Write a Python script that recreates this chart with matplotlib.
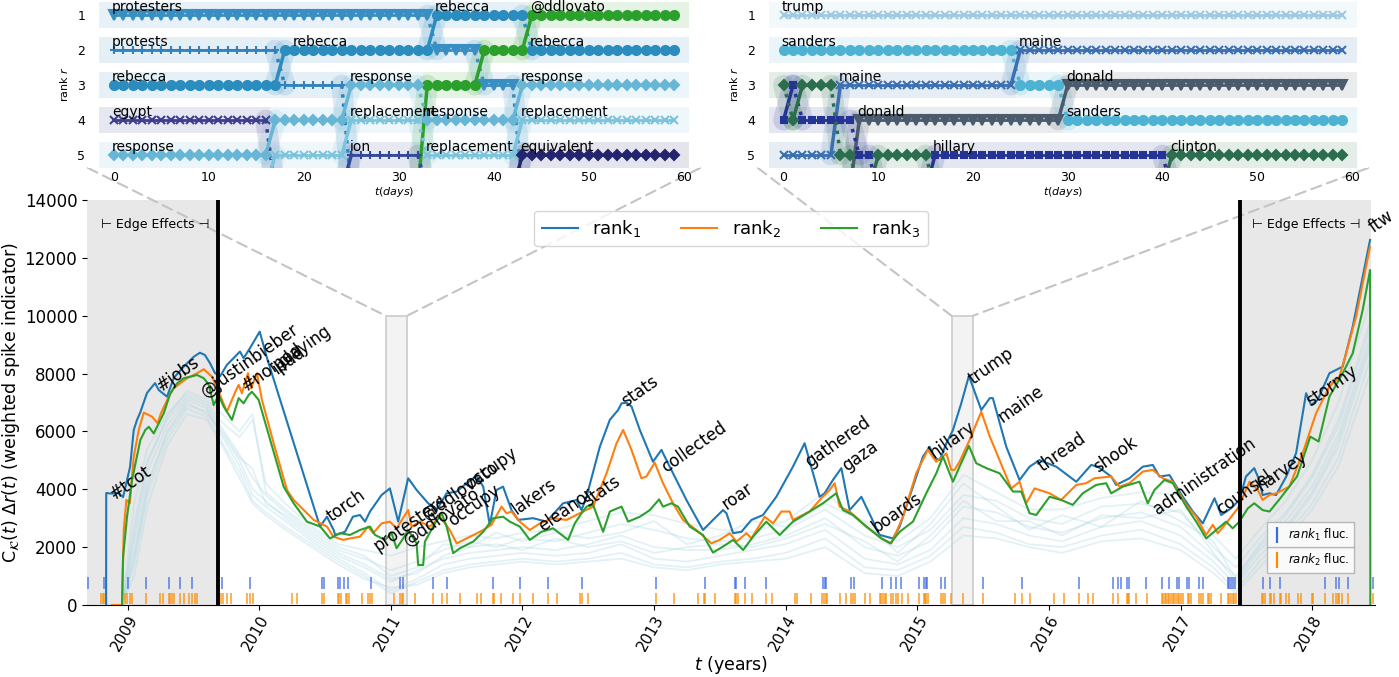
import matplotlib
matplotlib.use('Agg')
import matplotlib.pyplot as plt
from matplotlib.lines import Line2D
from matplotlib.patches import Rectangle, ConnectionPatch

# ---------------- main panel data (t in years) ----------------
r1_t = [2008.837, 2008.838, 2008.882, 2008.928, 2008.966, 2009.019, 2009.047, 2009.072, 2009.095, 2009.148,
        2009.209, 2009.237, 2009.300, 2009.351, 2009.427, 2009.503, 2009.550, 2009.588, 2009.626, 2009.664,
        2009.702, 2009.755, 2009.854, 2009.882, 2009.930, 2010.004, 2010.059, 2010.462, 2010.515, 2010.566,
        2010.577, 2010.652, 2010.712, 2010.766, 2010.804, 2010.842, 2010.930, 2010.993, 2011.056, 2011.132,
        2011.196, 2011.284, 2011.348, 2011.424, 2011.500, 2011.576, 2011.652, 2011.702, 2011.752, 2011.803,
        2011.853, 2011.917, 2011.967, 2012.081, 2012.183, 2012.309, 2012.360, 2012.411, 2012.449, 2012.487,
        2012.588, 2012.664, 2012.727, 2012.753, 2012.791, 2012.829, 2012.892, 2012.992, 2013.056, 2013.119,
        2013.246, 2013.372, 2013.448, 2013.524, 2013.550, 2013.601, 2013.664, 2013.740, 2013.828, 2013.929,
        2014.055, 2014.144, 2014.258, 2014.296, 2014.359, 2014.423, 2014.486, 2014.575, 2014.714, 2014.765,
        2014.815, 2014.866, 2014.967, 2015.043, 2015.094, 2015.132, 2015.170, 2015.221, 2015.271, 2015.334,
        2015.392, 2015.486, 2015.551, 2015.574, 2015.676, 2015.777, 2015.853, 2015.929, 2016.056, 2016.208,
        2016.321, 2016.372, 2016.473, 2016.511, 2016.612, 2016.713, 2016.789, 2016.840, 2016.916, 2017.017,
        2017.093, 2017.169, 2017.258, 2017.309, 2017.384, 2017.447, 2017.497, 2017.560, 2017.598, 2017.624,
        2017.676, 2017.726, 2017.803, 2017.878, 2017.954, 2017.992, 2018.042, 2018.131, 2018.232, 2018.308,
        2018.384, 2018.440]
r1_v = [0, 3870, 3850, 3880, 3730, 4770, 6050, 6400, 6640, 7330,
        7670, 7430, 7200, 7850, 8240, 8580, 8720, 8640, 8360, 8020,
        7900, 8300, 8760, 8530, 8880, 9450, 8540, 2710, 3050, 2590,
        2420, 2530, 3050, 3110, 2880, 3230, 3800, 4030, 2880, 4380,
        3975, 3515, 3280, 3860, 3920, 4210, 4460, 4090, 2770, 3975,
        4090, 3280, 2940, 3000, 2880, 3515, 3570, 3630, 3280, 3740,
        5470, 6400, 6740, 6970, 6990, 6860, 6050, 4950, 5360, 4780,
        3630, 2590, 2940, 3280, 3170, 2480, 2530, 2940, 3110, 3740,
        4780, 5590, 3740, 3860, 4320, 4730, 3280, 3740, 2420, 2360,
        2300, 2710, 4090, 5130, 5470, 5070, 5010, 5590, 6050, 6970,
        7920, 6740, 7150, 7150, 5470, 4320, 4780, 5010, 4780, 4260,
        4840, 4780, 4440, 4150, 4380, 4780, 4840, 4440, 4490, 3740,
        3230, 2820, 3690, 3110, 3340, 3630, 4440, 4730, 4320, 3800,
        3860, 3800, 4440, 5250, 7320, 6910, 7090, 8010, 8240, 9620,
        11350, 12620]

r2_t = [2008.882, 2008.958, 2008.971, 2008.991, 2009.017, 2009.047, 2009.085, 2009.123, 2009.186, 2009.229,
        2009.254, 2009.313, 2009.351, 2009.452, 2009.528, 2009.579, 2009.642, 2009.692, 2009.755, 2009.819,
        2009.844, 2009.869, 2009.915, 2009.938, 2009.983, 2010.021, 2010.110, 2010.211, 2010.262, 2010.414,
        2010.515, 2010.563, 2010.639, 2010.689, 2010.765, 2010.828, 2010.866, 2010.930, 2010.993, 2011.044,
        2011.132, 2011.158, 2011.221, 2011.297, 2011.373, 2011.449, 2011.500, 2011.576, 2011.702, 2011.765,
        2011.841, 2011.879, 2011.917, 2011.980, 2012.056, 2012.132, 2012.233, 2012.335, 2012.461, 2012.537,
        2012.639, 2012.715, 2012.765, 2012.829, 2012.904, 2012.942, 2013.005, 2013.068, 2013.144, 2013.220,
        2013.322, 2013.436, 2013.499, 2013.575, 2013.626, 2013.702, 2013.740, 2013.841, 2013.904, 2013.967,
        2014.030, 2014.055, 2014.182, 2014.271, 2014.334, 2014.372, 2014.410, 2014.486, 2014.613, 2014.727,
        2014.803, 2014.891, 2014.992, 2015.080, 2015.144, 2015.221, 2015.258, 2015.283, 2015.321, 2015.397,
        2015.486, 2015.551, 2015.714, 2015.777, 2015.828, 2015.891, 2016.005, 2016.093, 2016.208, 2016.283,
        2016.346, 2016.473, 2016.536, 2016.612, 2016.713, 2016.789, 2016.865, 2016.941, 2017.043, 2017.119,
        2017.195, 2017.245, 2017.283, 2017.346, 2017.435, 2017.524, 2017.587, 2017.624, 2017.676, 2017.726,
        2017.827, 2017.928, 2018.030, 2018.131, 2018.207, 2018.258, 2018.334, 2018.440]
r2_v = [0, 0, 2590, 3630, 3515, 5130, 6050, 6650, 6510, 6280,
        6630, 7200, 7490, 7840, 8010, 8150, 7890, 7370, 6680, 7370,
        7610, 7320, 8010, 7490, 8010, 7090, 5590, 3975, 3630, 2940,
        2710, 2360, 2250, 2300, 2360, 2710, 2480, 2820, 2880, 2650,
        3280, 2710, 2880, 2710, 3050, 2590, 2130, 2300, 2590, 2770,
        3400, 3170, 3230, 2880, 2590, 2820, 3000, 2940, 3230, 3400,
        4550, 5590, 6050, 5360, 4380, 4440, 4920, 4210, 3515, 2940,
        2590, 2130, 2250, 2480, 2190, 2480, 2300, 3050, 2820, 3230,
        3230, 2940, 3230, 3690, 3975, 4210, 3400, 3230, 2710, 2300,
        2130, 3050, 4550, 5360, 4950, 5240, 4670, 4670, 4950, 5700,
        6680, 5820, 4030, 4260, 3515, 4030, 3860, 3630, 4150, 4210,
        4380, 4440, 4090, 4210, 4610, 4670, 4380, 4260, 3460, 3050,
        2420, 2770, 2480, 2820, 3340, 4260, 3975, 3630, 3800, 3860,
        4090, 5250, 6630, 7550, 7890, 8700, 9970, 12390]

r3_t = [2008.958, 2008.966, 2008.996, 2009.034, 2009.097, 2009.135, 2009.161, 2009.199, 2009.237, 2009.275,
        2009.325, 2009.376, 2009.427, 2009.477, 2009.528, 2009.579, 2009.617, 2009.655, 2009.692, 2009.730,
        2009.793, 2009.844, 2009.882, 2009.920, 2009.945, 2009.996, 2010.084, 2010.186, 2010.262, 2010.363,
        2010.464, 2010.538, 2010.614, 2010.689, 2010.765, 2010.842, 2010.880, 2010.956, 2011.006, 2011.044,
        2011.094, 2011.132, 2011.196, 2011.208, 2011.246, 2011.259, 2011.335, 2011.386, 2011.424, 2011.474,
        2011.525, 2011.626, 2011.702, 2011.778, 2011.853, 2011.904, 2011.980, 2012.056, 2012.145, 2012.233,
        2012.347, 2012.398, 2012.449, 2012.487, 2012.537, 2012.613, 2012.664, 2012.753, 2012.803, 2012.892,
        2012.968, 2013.038, 2013.068, 2013.132, 2013.182, 2013.271, 2013.372, 2013.448, 2013.524, 2013.601,
        2013.677, 2013.752, 2013.853, 2013.954, 2014.055, 2014.182, 2014.283, 2014.384, 2014.435, 2014.511,
        2014.613, 2014.727, 2014.795, 2014.866, 2014.967, 2015.068, 2015.144, 2015.195, 2015.271, 2015.321,
        2015.392, 2015.448, 2015.524, 2015.626, 2015.727, 2015.790, 2015.853, 2015.904, 2016.005, 2016.093,
        2016.181, 2016.257, 2016.359, 2016.435, 2016.473, 2016.561, 2016.688, 2016.751, 2016.802, 2016.878,
        2016.941, 2017.043, 2017.119, 2017.195, 2017.271, 2017.346, 2017.396, 2017.447, 2017.511, 2017.560,
        2017.624, 2017.676, 2017.758, 2017.885, 2017.986, 2018.049, 2018.131, 2018.232, 2018.308, 2018.384,
        2018.440, 2018.442]
r3_v = [0, 1670, 3050, 4320, 5700, 6050, 6160, 5930, 6280, 6630,
        7320, 7660, 7840, 7890, 7950, 7840, 7610, 6910, 7260, 6860,
        6400, 7150, 6970, 7260, 7370, 7090, 5700, 4090, 3515, 2880,
        2710, 2300, 2480, 2420, 2590, 2710, 2420, 2250, 2480, 1960,
        2300, 2590, 2130, 1380, 1380, 2190, 2820, 3170, 2710, 1790,
        1960, 2190, 2530, 3000, 3050, 2880, 2710, 2250, 2530, 2650,
        2250, 2820, 3170, 3400, 3460, 2530, 3230, 3400, 2880, 3050,
        3280, 3650, 3400, 3515, 3400, 2710, 2420, 1810, 2020, 2250,
        1900, 2360, 2880, 2420, 2880, 3230, 3515, 3860, 3280, 3110,
        2710, 2300, 2130, 2530, 2880, 3860, 4550, 5130, 4260, 4780,
        5500, 4900, 4730, 4550, 3920, 3920, 3170, 3110, 3740, 3630,
        3460, 3860, 4150, 4210, 3860, 4090, 4260, 3515, 3975, 4320,
        4210, 3400, 2880, 2300, 2590, 2880, 2650, 2880, 3340, 3515,
        3280, 3230, 3690, 4440, 5820, 5650, 7200, 8010, 8700, 10200,
        11580, 0]

# lower ranks (faint background curves)
bg_t = [2008.96, 2009.05, 2009.15, 2009.3, 2009.45, 2009.6, 2009.72, 2009.85, 2009.95, 2010.05,
        2010.2, 2010.4, 2010.6, 2010.8, 2011.0, 2011.2, 2011.4, 2011.6, 2011.8, 2012.0,
        2012.25, 2012.5, 2012.75, 2013.0, 2013.25, 2013.5, 2013.75, 2014.0, 2014.3, 2014.6,
        2014.85, 2015.1, 2015.35, 2015.6, 2015.85, 2016.1, 2016.4, 2016.7, 2017.0, 2017.25,
        2017.42, 2017.6, 2017.8, 2018.0, 2018.2, 2018.44]
bg1 = [0, 3500, 5400, 6600, 7300, 7000, 6300, 5800, 6400, 4200,
       3500, 2700, 2100, 1900, 1700, 2000, 2200, 2400, 2300, 2500,
       2600, 2900, 3200, 3100, 2800, 2600, 2500, 2900, 3900, 2700,
       2200, 3000, 4500, 3900, 3300, 3300, 3700, 3900, 3800, 2400,
       1600, 2600, 3600, 5000, 7000, 10500]
bg2 = [0, 2800, 5000, 6400, 7200, 6900, 6100, 5200, 4400, 3800,
       3200, 2500, 1900, 1600, 1200, 1500, 1900, 2200, 2000, 2300,
       2200, 2500, 2800, 2600, 2300, 2200, 2300, 2600, 3300, 2400,
       2000, 2600, 3800, 3600, 3000, 2800, 3400, 3500, 3200, 2000,
       1300, 2300, 3200, 4500, 6400, 9800]
bg3 = [0, 2200, 4600, 6200, 7100, 6800, 5900, 5000, 4000, 3600,
       3000, 2300, 1700, 1300, 800, 1200, 1600, 1800, 1900, 2000,
       1900, 2100, 2400, 2000, 1900, 1900, 2100, 2400, 3000, 2000,
       1700, 2200, 3400, 3200, 2700, 2500, 3000, 3200, 2700, 1700,
       1000, 2000, 2900, 4100, 5900, 9300]
bg4 = [0, 1800, 4200, 5900, 6900, 6700, 5800, 4800, 3800, 3400,
       2900, 2200, 1600, 1100, 500, 900, 1400, 1600, 1700, 1800,
       1700, 1800, 2100, 1600, 1500, 1700, 1900, 2100, 2600, 1600,
       1400, 1900, 3000, 2800, 2400, 2200, 2700, 2900, 2400, 1500,
       700, 1700, 2600, 3800, 5500, 8900]
bg5 = [0, 1400, 3800, 5700, 6800, 6500, 5600, 4600, 3600, 3200,
       2700, 2100, 1500, 1000, 400, 800, 1200, 1400, 1500, 1600,
       1500, 1600, 1800, 1400, 1300, 1500, 1600, 1800, 2300, 1300,
       1200, 1700, 2700, 2500, 2100, 2000, 2400, 2600, 2100, 1300,
       500, 1500, 2400, 3500, 5100, 8500]
bg6 = [0, 1000, 3400, 5500, 6600, 6400, 5500, 4400, 3500, 3100,
       2600, 2000, 1400, 900, 600, 700, 1100, 1300, 1400, 1500,
       1400, 1500, 1600, 1300, 1200, 1400, 1500, 1600, 2000, 1100,
       1000, 1500, 2400, 2300, 2000, 1800, 2200, 2300, 1900, 1100,
       400, 1300, 2200, 3300, 4800, 8000]
bg7 = [0, 2500, 4900, 6500, 7400, 7100, 6600, 6000, 6600, 3900,
       3300, 2600, 2000, 1700, 1000, 1300, 2100, 2000, 2500, 2200,
       2500, 2300, 2500, 2900, 2100, 2400, 2900, 2700, 3500, 2900,
       1800, 2800, 4200, 3400, 2600, 3100, 2700, 3600, 2900, 2200,
       900, 2100, 3100, 4400, 6200, 9600]
bg8 = [0, 1600, 4000, 6000, 7000, 6600, 6000, 5100, 4700, 3500,
       3100, 2400, 1800, 1400, 900, 1100, 1700, 2000, 2100, 1900,
       2300, 2000, 2200, 1800, 2000, 2100, 2000, 2300, 2800, 2200,
       1500, 2400, 3600, 2900, 2900, 2400, 3100, 3000, 3300, 1800,
       800, 1900, 2700, 3900, 5700, 9100]

# rank fluctuation events
fluc1 = [2008.700, 2008.819, 2009.004, 2009.138, 2009.313, 2009.396, 2009.490, 2009.718, 2009.932, 2010.477,
         2010.490, 2010.601, 2010.614, 2010.646, 2010.677, 2010.849, 2011.069, 2011.090, 2011.322, 2011.424,
         2011.773, 2011.980, 2012.195, 2012.449, 2013.018, 2013.385, 2013.613, 2013.626, 2013.689, 2013.853,
         2014.283, 2014.296, 2014.309, 2014.499, 2014.516, 2014.734, 2014.802, 2014.841, 2014.878, 2015.010,
         2015.048, 2015.063, 2015.076, 2015.182, 2015.213, 2015.503, 2015.797, 2016.227, 2016.485, 2016.523,
         2016.544, 2016.591, 2016.607, 2016.739, 2016.860, 2016.916, 2016.974, 2016.992, 2017.050, 2017.068,
         2017.138, 2017.169, 2017.358, 2017.371, 2017.384, 2017.396, 2017.415, 2017.624, 2017.680, 2017.758,
         2018.100, 2018.181, 2018.201, 2018.275, 2018.465]
fluc2 = [2008.801, 2008.812, 2008.819, 2008.979, 2008.996, 2009.017, 2009.034, 2009.143, 2009.249, 2009.270,
         2009.313, 2009.325, 2009.338, 2009.351, 2009.401, 2009.427, 2009.465, 2009.490, 2009.515, 2009.528,
         2009.712, 2009.725, 2009.755, 2009.786, 2009.907, 2009.932, 2009.953, 2010.249, 2010.287, 2010.477,
         2010.490, 2010.601, 2010.608, 2010.619, 2010.659, 2010.669, 2010.680, 2010.778, 2010.828, 2010.841,
         2010.854, 2011.024, 2011.069, 2011.082, 2011.094, 2011.183, 2011.322, 2011.386, 2011.424, 2011.525,
         2011.652, 2011.689, 2011.773, 2011.783, 2011.841, 2011.925, 2011.980, 2012.081, 2012.195, 2012.259,
         2012.441, 2012.451, 2012.499, 2013.018, 2013.150, 2013.334, 2013.380, 2013.390, 2013.461, 2013.613,
         2013.626, 2013.638, 2013.689, 2013.747, 2013.853, 2013.896, 2014.068, 2014.086, 2014.190, 2014.279,
         2014.291, 2014.304, 2014.317, 2014.410, 2014.461, 2014.499, 2014.511, 2014.524, 2014.600, 2014.638,
         2014.714, 2014.727, 2014.739, 2014.752, 2014.765, 2014.802, 2014.815, 2014.841, 2014.853, 2014.886,
         2014.929, 2015.012, 2015.048, 2015.058, 2015.068, 2015.078, 2015.182, 2015.194, 2015.213, 2015.258,
         2015.346, 2015.503, 2015.739, 2015.797, 2015.853, 2016.035, 2016.118, 2016.227, 2016.295, 2016.333,
         2016.485, 2016.523, 2016.591, 2016.602, 2016.612, 2016.663, 2016.744, 2016.860, 2016.870, 2016.880,
         2016.891, 2016.901, 2016.916, 2016.929, 2016.941, 2016.954, 2016.967, 2016.979, 2016.992, 2017.005,
         2017.017, 2017.055, 2017.068, 2017.081, 2017.144, 2017.157, 2017.169, 2017.207, 2017.220, 2017.233,
         2017.309, 2017.358, 2017.371, 2017.384, 2017.396, 2017.409, 2017.422, 2017.620, 2017.630, 2017.640,
         2017.676, 2017.689, 2017.712, 2017.755, 2017.767, 2017.802, 2017.827, 2017.890, 2017.915, 2017.996,
         2018.004, 2018.100, 2018.156, 2018.181, 2018.193, 2018.203, 2018.223, 2018.275, 2018.465]

# words written at the spikes: (word, t, value)
peak_labels = [('#tcot', 2008.906, 3630), ('#jobs', 2009.255, 7370), ('@justinbieber', 2009.591, 7160),
               ('#noipod', 2009.907, 7370), ('ipad', 2010.137, 7950), ('playing', 2010.173, 8190),
               ('torch', 2010.551, 2880), ('protesters', 2010.904, 1840), ('@ddlovato', 2011.132, 2020),
               ('@ddlovato', 2011.272, 2940), ('occupy', 2011.470, 2700), ('occupy', 2011.600, 3975),
               ('lakers', 2011.955, 3110), ('eleanor', 2012.157, 2530), ('stats', 2012.499, 3400),
               ('stats', 2012.791, 6860), ('collected', 2013.094, 4550), ('roar', 2013.550, 3280),
               ('gathered', 2014.182, 4730), ('gaza', 2014.461, 4610), ('boards', 2014.689, 2480),
               ('hillary', 2015.132, 5070), ('trump', 2015.422, 7610), ('maine', 2015.650, 6280),
               ('thread', 2015.954, 4610), ('shook', 2016.371, 4550), ('administration', 2016.827, 3110),
               ('counsel', 2017.309, 3110), ('harvey', 2017.613, 3900), ('stormy', 2017.992, 6860),
               ('ftw', 2018.465, 12860)]

edge_left, edge_right, data_start, data_end = 2009.69, 2017.453, 2008.692, 2018.45
zoom_starts = [2010.96, 2015.26]
zoom_days = 60

# ---------------- inset data: (first day, last day, rank) per word ----------------
ins1_words = ['protesters', 'protests', 'rebecca', '@ddlovato', 'egypt',
              'response', 'replacement', 'ion', 'equivalent']
ins1_paths = [[(0, 33, 1), (34, 38, 2), (39, 42, 3), (43, 44, 6)],
              [(0, 17, 2), (18, 24, 3), (25, 26, 6)],
              [(0, 17, 3), (18, 33, 2), (34, 43, 1), (44, 59, 2)],
              [(31, 32, 6), (33, 38, 3), (39, 43, 2), (44, 59, 1)],
              [(0, 16, 4), (17, 18, 6)],
              [(0, 16, 5), (17, 24, 4), (25, 32, 3), (33, 42, 4), (43, 59, 3)],
              [(15, 16, 6), (17, 24, 5), (25, 32, 4), (33, 42, 5), (43, 59, 4)],
              [(23, 24, 6), (25, 32, 5), (33, 34, 6)],
              [(41, 42, 6), (43, 59, 5)]]
ins1_labels = [('protesters', 0, 1), ('rebecca', 34, 1), ('@ddlovato', 44, 1),
               ('protests', 0, 2), ('rebecca', 19, 2), ('rebecca', 44, 2),
               ('rebecca', 0, 3), ('response', 25, 3), ('response', 43, 3),
               ('egypt', 0, 4), ('replacement', 25, 4), ('response', 33, 4), ('replacement', 43, 4),
               ('response', 0, 5), ('ion', 25, 5), ('replacement', 33, 5), ('equivalent', 43, 5)]

ins2_words = ['trump', 'sanders', 'maine', 'donald', 'hillary', 'clinton']
ins2_paths = [[(0, 59, 1)],
              [(0, 24, 2), (25, 29, 3), (30, 59, 4)],
              [(0, 5, 5), (6, 24, 3), (25, 59, 2)],
              [(6, 7, 6), (8, 29, 4), (30, 59, 3)],
              [(0, 0, 4), (1, 1, 3), (2, 7, 4), (8, 9, 5), (10, 15, 6), (16, 40, 5), (41, 42, 6)],
              [(0, 0, 3), (1, 1, 4), (2, 5, 3), (6, 7, 5), (8, 9, 6), (10, 15, 5), (16, 40, 6), (41, 59, 5)]]
ins2_labels = [('trump', 0, 1), ('sanders', 0, 2), ('maine', 25, 2), ('maine', 6, 3),
               ('donald', 30, 3), ('donald', 8, 4), ('sanders', 30, 4),
               ('hillary', 16, 5), ('clinton', 41, 5)]

# word styles (colour, marker)
styles = {'protesters': ('#3a8fc2', 'v'), 'protests': ('#3182bd', '+'), 'rebecca': ('#2b8cbe', 'o'),
          '@ddlovato': ('#2ca02c', 'o'), 'egypt': ('#3d3f8e', 'x'), 'response': ('#67b6d6', 'D'),
          'replacement': ('#7cc4dd', 'x'), 'ion': ('#34479a', '+'), 'equivalent': ('#24246e', 'D'),
          'trump': ('#9ecae1', 'x'), 'sanders': ('#4eb3d3', 'o'), 'maine': ('#3a6fb0', 'x'),
          'donald': ('#4a5b6d', 'v'), 'hillary': ('#253494', 's'), 'clinton': ('#2a6e4e', 'D')}
marker_size = {'o': 6.5, 'v': 6.5, 'D': 5.5, 's': 5, 'x': 6, '+': 6}

# ---------------- figure ----------------
fig = plt.figure(figsize=(13.99, 6.77), dpi=100)
ax = fig.add_axes([0.0622, 0.1064, 0.9207, 0.5982])
ax.set_xlim(2008.692, 2018.478)
ax.set_ylim(0, 14000)

ax.axvspan(data_start, edge_left, color='#e8e8e8', lw=0, zorder=0)
ax.axvspan(edge_right, data_end, color='#e8e8e8', lw=0, zorder=0)
ax.axvline(edge_left, color='k', lw=2.8, zorder=4)
ax.axvline(edge_right, color='k', lw=2.8, zorder=4)
ax.text((data_start + edge_left) / 2 + 0.02, 13150, '⊢ Edge Effects ⊣', ha='center', va='center', fontsize=9)
ax.text((edge_right + data_end) / 2, 13150, '⊢ Edge Effects ⊣', ha='center', va='center', fontsize=9)

zlen = zoom_days / 365.25
for z0 in zoom_starts:
    ax.add_patch(Rectangle((z0, 0), zlen, 10000, facecolor='#f3f3f3', edgecolor='#cfcfcf',
                           lw=1.3, zorder=0.5))

for bg in (bg1, bg2, bg3, bg4, bg5, bg6, bg7, bg8):
    ax.plot(bg_t, bg, color='lightblue', alpha=0.35, lw=1.3, zorder=1)

ax.plot(r1_t, r1_v, color='#1f77b4', lw=1.5, label='rank$_1$', zorder=3)
ax.plot(r2_t, r2_v, color='#ff7f0e', lw=1.5, label='rank$_2$', zorder=3)
ax.plot(r3_t, r3_v, color='#2ca02c', lw=1.5, label='rank$_3$', zorder=3)

ax.vlines(fluc1, 550, 950, color='royalblue', lw=1.1, alpha=0.85, zorder=2)
ax.vlines(fluc2, 40, 420, color='darkorange', lw=1.1, alpha=0.85, zorder=2)

for w, t, v in peak_labels:
    ax.text(t, v, w, rotation=35, rotation_mode='anchor', ha='left', va='baseline',
            fontsize=12, zorder=5)

ax.set_xticks(range(2009, 2019))
ax.set_xticklabels([str(y) for y in range(2009, 2019)])
plt.setp(ax.get_xticklabels(), rotation=60, ha='right', rotation_mode='anchor')
ax.set_yticks(range(0, 14001, 2000))
ax.tick_params(axis='y', labelsize=12)
ax.tick_params(axis='x', labelsize=11, pad=2)
for s in ('top', 'right', 'left'):
    ax.spines[s].set_visible(False)
ax.set_xlabel('$t$ (years)', fontsize=12.5, labelpad=0)
ax.set_ylabel(r'C$_{\mathcal{K}}(t)$ $\Delta r(t)$ (weighted spike indicator)', fontsize=12.5,
              labelpad=2)

main_leg = ax.legend(loc='upper center', ncol=3, fontsize=13, handlelength=2.0,
                     columnspacing=2.2, handletextpad=0.8, borderaxespad=0.6)
main_leg.set_zorder(6)
ax.add_artist(main_leg)
h1 = Line2D([], [], color='royalblue', marker='|', ls='None', ms=11, mew=1.6)
h2 = Line2D([], [], color='darkorange', marker='|', ls='None', ms=11, mew=1.6)
leg1 = ax.legend([h1], ['$rank_1$ fluc.'], loc='lower right', bbox_to_anchor=(0.984, 0.141),
                 fontsize=8.5, fancybox=False, edgecolor='#aaaaaa', borderaxespad=0,
                 handlelength=0.8, handletextpad=0.6)
ax.add_artist(leg1)
ax.legend([h2], ['$rank_2$ fluc.'], loc='lower right', bbox_to_anchor=(0.984, 0.079),
          fontsize=8.5, fancybox=False, edgecolor='#aaaaaa', borderaxespad=0,
          handlelength=0.8, handletextpad=0.6)


def draw_inset(rect, words, paths, labels):
    a = fig.add_axes(rect)
    a.set_xlim(-2.7, 61.7)
    a.set_ylim(5.37, 0.57)
    for w, path in zip(words, paths):
        col, mk = styles[w]
        for d0, d1, r in path:
            if r <= 5:
                x0 = d0 - 0.5 if d0 > 0 else -1.5
                x1 = d1 + 0.5 if d1 < 59 else 60.5
                a.add_patch(Rectangle((x0, r - 0.37), x1 - x0, 0.74, facecolor=col,
                                      alpha=0.12, lw=0, zorder=0))
            days = list(range(d0, d1 + 1))
            a.plot(days, [r] * len(days), color=col, marker=mk, lw=2, ms=marker_size[mk],
                   mew=1.5, zorder=3)
        for s, s2 in zip(path[:-1], path[1:]):
            xs, ys = [s[1], s2[0]], [s[2], s2[2]]
            a.plot(xs, ys, color=col, lw=15, alpha=0.15, solid_capstyle='round', zorder=1)
            a.plot(xs, ys, color=col, lw=2.5, ls='-' if s2[2] < s[2] else ':', zorder=3)
    for w, d, r in labels:
        a.text(d - 0.2, r - 0.12, w, fontsize=10, ha='left', va='baseline', zorder=4)
    a.set_yticks([1, 2, 3, 4, 5])
    a.set_xticks(range(0, 61, 10))
    a.tick_params(length=0, labelsize=9, pad=2)
    for s in a.spines.values():
        s.set_visible(False)
    a.set_ylabel('rank $r$', fontsize=8, labelpad=5)
    a.set_xlabel('$t(days)$', fontsize=8, labelpad=1)
    return a


ins1 = draw_inset([0.0629, 0.7518, 0.4375, 0.2482], ins1_words, ins1_paths, ins1_labels)
ins2 = draw_inset([0.5418, 0.7518, 0.4360, 0.2482], ins2_words, ins2_paths, ins2_labels)

for ins, z0 in ((ins1, zoom_starts[0]), (ins2, zoom_starts[1])):
    for xa, xb in ((0, z0), (1, z0 + zlen)):
        con = ConnectionPatch(xyA=(xa, 0), coordsA=ins.transAxes, xyB=(xb, 10000),
                              coordsB=ax.transData, color='#c4c4c4', lw=1.5,
                              ls=(0, (5, 3)), zorder=1)
        ax.add_artist(con)

fig.savefig('out.png', dpi=100)
